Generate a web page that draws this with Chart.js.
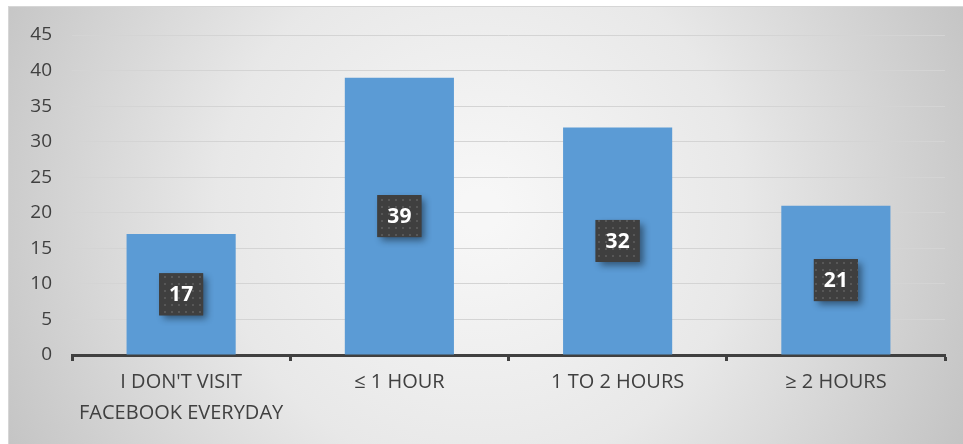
<!DOCTYPE html>
<html>
<head>
<meta charset="utf-8">
<script src="https://cdn.jsdelivr.net/npm/chart.js@4.4.1/dist/chart.umd.min.js"></script>
<style>
  html, body { margin: 0; padding: 0; background: #fff; }
  #wrap { width: 963px; height: 444px; position: relative; }
</style>
</head>
<body>
<div id="wrap"><canvas id="myChart" width="963" height="444"></canvas></div>
<script>
// 1日あたりのFacebook利用時間
var categories = [["I DON'T VISIT", "FACEBOOK EVERYDAY"], "\u2264 1 HOUR", "1 TO 2 HOURS", "\u2265 2 HOURS"];
var counts = [17, 39, 32, 21];
var yMin = 0, yMax = 45, yStep = 5;

var FONT = "'Open Sans', 'Noto Sans', sans-serif";

// 背景：中心が白っぽいラジアルグラデーション
var bgPlugin = {
  id: 'bg',
  beforeDraw: function(chart) {
    var c = chart.ctx, w = chart.width, h = chart.height;
    c.save();
    c.fillStyle = '#ffffff';
    c.fillRect(0, 0, w, h);
    var g = c.createRadialGradient(480, 210, 20, 480, 210, 560);
    g.addColorStop(0, '#f7f7f7');
    g.addColorStop(0.45, '#e8e8e8');
    g.addColorStop(1, '#c0c0c0');
    c.fillStyle = g;
    c.fillRect(8, 6, w - 8, h - 6);
    c.strokeStyle = '#d6d6d6';
    c.lineWidth = 1;
    c.strokeRect(8.5, 6.5, w, h);
    c.restore();
  }
};

// ドット柄のパターン（データラベルの箱用）
function dotPattern() {
  var p = document.createElement('canvas');
  p.width = 7; p.height = 7;
  var pc = p.getContext('2d');
  pc.fillStyle = '#3f3f3f';
  pc.fillRect(0, 0, 7, 7);
  pc.fillStyle = '#575757';
  pc.fillRect(3, 3, 2, 2);
  return pc.createPattern(p, 'repeat');
}

// 棒の中央に値ラベルを描く
var labelPlugin = {
  id: 'valueBoxes',
  afterDatasetsDraw: function(chart) {
    var c = chart.ctx;
    var pat = dotPattern();
    chart.getDatasetMeta(0).data.forEach(function(bar, i) {
      var cx = bar.x, cy = (bar.y + bar.base) / 2;
      var bw = 44, bh = 42;
      c.save();
      c.shadowColor = 'rgba(0,0,0,0.45)';
      c.shadowBlur = 7;
      c.shadowOffsetX = 4;
      c.shadowOffsetY = 4;
      c.fillStyle = '#3f3f3f';
      c.fillRect(cx - bw / 2, cy - bh / 2, bw, bh);
      c.restore();
      c.save();
      c.fillStyle = pat;
      c.fillRect(cx - bw / 2, cy - bh / 2, bw, bh);
      c.fillStyle = '#ffffff';
      c.font = 'bold 21px ' + FONT;
      c.textAlign = 'center';
      c.textBaseline = 'middle';
      c.fillText(String(counts[i]), cx, cy + 1);
      c.restore();
    });
  }
};

var ctx = document.getElementById('myChart').getContext('2d');
var myChart = new Chart(ctx, {
  type: 'bar',
  data: {
    labels: categories,
    datasets: [{
      data: counts,
      backgroundColor: '#5b9bd5',
      categoryPercentage: 1.0,
      barPercentage: 0.5
    }]
  },
  options: {
    responsive: false,
    animation: false,
    layout: { padding: { left: 0, right: 18, top: 35, bottom: 0 } },
    plugins: { legend: { display: false }, tooltip: { enabled: false } },
    scales: {
      x: {
        grid: {
          offset: true,
          drawOnChartArea: false,
          drawTicks: true,
          tickLength: 6,
          tickWidth: 3,
          color: '#404040'
        },
        border: { display: true, color: '#404040', width: 3 },
        ticks: {
          color: '#404040',
          font: { family: FONT, size: 20, lineHeight: 1.55 },
          padding: 6,
          maxRotation: 0
        },
        afterFit: function(scale) { scale.height = 89; }
      },
      y: {
        min: yMin,
        max: yMax,
        ticks: {
          stepSize: yStep,
          color: '#404040',
          font: { family: FONT, size: 19 },
          padding: 20
        },
        grid: { color: '#d4d4d4', lineWidth: 1, drawTicks: false },
        border: { display: false },
        afterFit: function(scale) { scale.width = 72; }
      }
    }
  },
  plugins: [bgPlugin, labelPlugin]
});
</script>
</body>
</html>
